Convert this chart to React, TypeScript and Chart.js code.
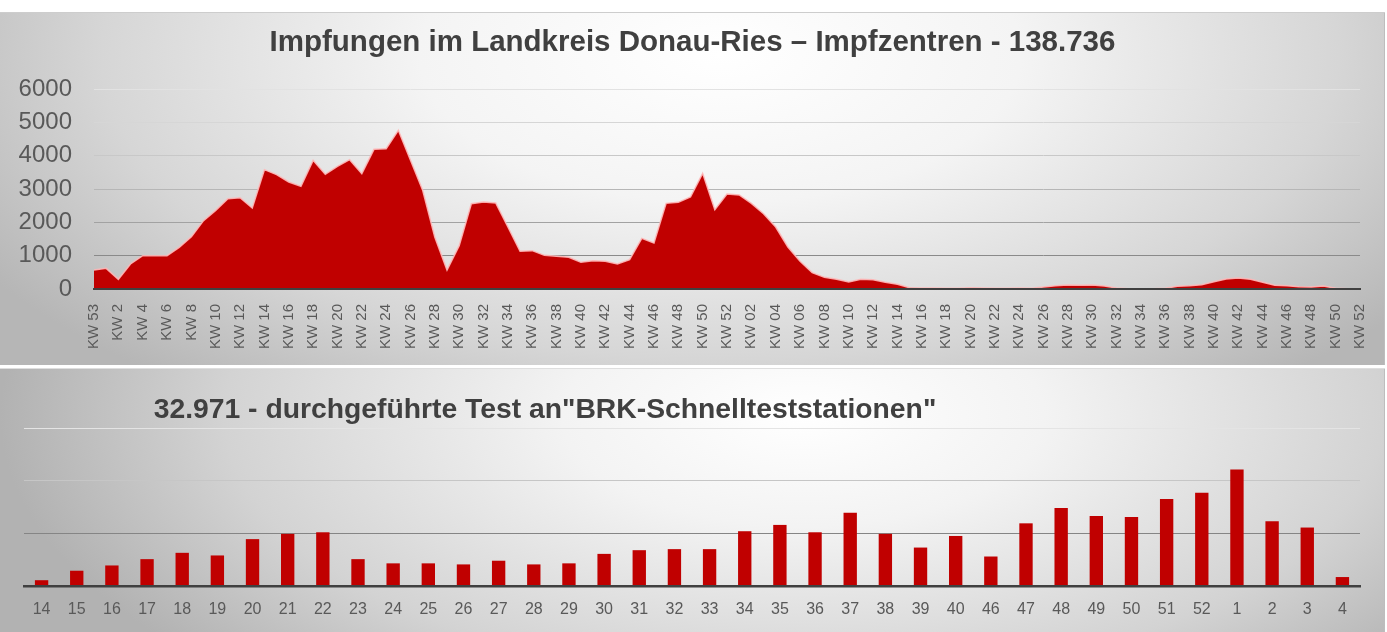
import React, { useEffect, useRef } from "react";
import { Chart, registerables } from "chart.js";

Chart.register(...registerables);

const FONT = "'Liberation Sans', Arial, Helvetica, sans-serif";

const vaccTitle = "Impfungen im Landkreis Donau-Ries – Impfzentren - 138.736";
const testTitle = '32.971 - durchgeführte Test an"BRK-Schnellteststationen"';

const vaccWeeks = [
  "KW 53",
  "KW 1", "KW 2", "KW 3", "KW 4", "KW 5", "KW 6", "KW 7", "KW 8", "KW 9", "KW 10",
  "KW 11", "KW 12", "KW 13", "KW 14", "KW 15", "KW 16", "KW 17", "KW 18", "KW 19", "KW 20",
  "KW 21", "KW 22", "KW 23", "KW 24", "KW 25", "KW 26", "KW 27", "KW 28", "KW 29", "KW 30",
  "KW 31", "KW 32", "KW 33", "KW 34", "KW 35", "KW 36", "KW 37", "KW 38", "KW 39", "KW 40",
  "KW 41", "KW 42", "KW 43", "KW 44", "KW 45", "KW 46", "KW 47", "KW 48", "KW 49", "KW 50",
  "KW 51", "KW 52",
  "KW 01", "KW 02", "KW 03", "KW 04", "KW 05", "KW 06", "KW 07", "KW 08", "KW 09", "KW 10",
  "KW 11", "KW 12", "KW 13", "KW 14", "KW 15", "KW 16", "KW 17", "KW 18", "KW 19", "KW 20",
  "KW 21", "KW 22", "KW 23", "KW 24", "KW 25", "KW 26", "KW 27", "KW 28", "KW 29", "KW 30",
  "KW 31", "KW 32", "KW 33", "KW 34", "KW 35", "KW 36", "KW 37", "KW 38", "KW 39", "KW 40",
  "KW 41", "KW 42", "KW 43", "KW 44", "KW 45", "KW 46", "KW 47", "KW 48", "KW 49", "KW 50",
  "KW 51", "KW 52",
];

const vaccDoses = [
  570, 620, 290, 750, 1000, 1000, 1000, 1250, 1570, 2050,
  2360, 2710, 2740, 2430, 3580, 3430, 3210, 3080, 3860, 3440,
  3680, 3880, 3460, 4190, 4210, 4760, 3860, 2960, 1550, 570,
  1300, 2560, 2610, 2580, 1860, 1130, 1150, 1010, 980, 950,
  800, 850, 830, 750, 880, 1520, 1380, 2570, 2600, 2760,
  3470, 2380, 2850, 2820, 2570, 2260, 1860, 1260, 830, 490,
  350, 290, 210, 290, 280, 200, 140, 40, 30, 30,
  20, 20, 40, 30, 20, 20, 30, 20, 60, 100,
  120, 110, 120, 90, 30, 10, 10, 10, 20, 80,
  100, 130, 220, 300, 330, 290, 200, 110, 100, 70,
  60, 90, 20, 10, 10,
];

const vaccAxisMax = 6000;
const vaccAxisStep = 1000;

const testWeeks = [
  "14", "15", "16", "17", "18", "19", "20", "21", "22", "23",
  "24", "25", "26", "27", "28", "29", "30", "31", "32", "33",
  "34", "35", "36", "37", "38", "39", "40", "46", "47", "48",
  "49", "50", "51", "52", "1", "2", "3", "4",
];

const testCounts = [
  110, 290, 390, 510, 630, 580, 890, 990, 1020, 510,
  430, 430, 410, 480, 410, 430, 610, 680, 700, 700,
  1040, 1160, 1020, 1390, 990, 730, 950, 560, 1190, 1480,
  1330, 1310, 1650, 1770, 2210, 1230, 1110, 170,
];

const testAxisMax = 3000;
const testAxisStep = 1000;

const RED = "#C00000";

function vaccGridColor(v: number) {
  if (v <= 0) return "rgba(0,0,0,0)";
  if (v <= 1000) return "#8a8a8a";
  if (v <= 2000) return "#a2a2a2";
  if (v <= 3000) return "#b6b6b6";
  if (v <= 4000) return "#c8c8c8";
  if (v <= 5000) return "#d6d6d6";
  return "#e2e2e2";
}

function testGridColor(v: number) {
  if (v <= 0) return "rgba(0,0,0,0)";
  if (v <= 1000) return "#858585";
  if (v <= 2000) return "#c6c6c6";
  return "#e4e4e4";
}

const testTitlePlugin = {
  id: "testTitle",
  afterDraw(chart: any) {
    const ctx = chart.ctx;
    ctx.save();
    ctx.font = `bold 28.3px ${FONT}`;
    ctx.fillStyle = "#404040";
    ctx.textAlign = "center";
    ctx.textBaseline = "middle";
    ctx.fillText(testTitle, 545, 42);
    ctx.restore();
  },
};

// empty right-hand axis that only reserves the right margin
const spacerAxis = (w: number) => ({
  position: "right",
  display: true,
  grid: { display: false, drawTicks: false },
  border: { display: false },
  ticks: { display: false },
  afterFit: (s: any) => {
    s.width = w;
  },
});

export default function App() {
  const topRef = useRef<HTMLCanvasElement | null>(null);
  const botRef = useRef<HTMLCanvasElement | null>(null);

  useEffect(() => {
    if (!topRef.current || !botRef.current) return;

    const top = new Chart(topRef.current, {
      type: "line",
      data: {
        labels: vaccWeeks,
        datasets: [
          {
            data: vaccDoses,
            fill: "origin",
            backgroundColor: RED,
            borderColor: "rgba(255,185,185,0.9)",
            borderWidth: 1.5,
            pointRadius: 0,
            tension: 0,
          },
        ],
      },
      options: {
        responsive: false,
        animation: false,
        events: [],
        layout: { padding: 0 },
        plugins: {
          legend: { display: false },
          tooltip: { enabled: false },
          title: {
            display: true,
            text: vaccTitle,
            color: "#404040",
            font: { family: FONT, size: 29.5, weight: "bold", lineHeight: 1.2 },
            padding: { top: 13.3, bottom: 28.3 },
          },
        },
        scales: {
          x: {
            type: "category",
            offset: false,
            grid: { display: false },
            border: { display: true, color: "#404040", width: 2, z: 1 },
            ticks: {
              autoSkip: false,
              minRotation: 90,
              maxRotation: 90,
              padding: 7,
              color: "#595959",
              font: { family: FONT, size: 15 },
              callback: function (this: any, val: any, idx: number) {
                return idx % 2 === 0 ? this.getLabelForValue(val) : "";
              },
            },
            afterFit: (s: any) => {
              s.height = 76;
            },
          },
          y: {
            min: 0,
            max: vaccAxisMax,
            border: { display: false },
            grid: {
              drawTicks: false,
              color: (c: any) => vaccGridColor(c.tick ? c.tick.value : 0),
              lineWidth: 1,
            },
            ticks: {
              stepSize: vaccAxisStep,
              padding: 22,
              color: "#595959",
              font: { family: FONT, size: 24 },
              callback: (v: any) => String(v),
            },
            afterFit: (s: any) => {
              s.width = 94;
            },
          },
          yr: spacerAxis(25),
        },
      },
    } as any);

    const bot = new Chart(botRef.current, {
      type: "bar",
      data: {
        labels: testWeeks,
        datasets: [
          {
            data: testCounts,
            backgroundColor: RED,
            borderWidth: 0,
            barPercentage: 0.38,
            categoryPercentage: 1,
          },
        ],
      },
      options: {
        responsive: false,
        animation: false,
        events: [],
        layout: { padding: { left: 0, right: 0, top: 60, bottom: 0 } },
        plugins: {
          legend: { display: false },
          tooltip: { enabled: false },
          title: { display: false },
        },
        scales: {
          x: {
            type: "category",
            offset: true,
            grid: { display: false },
            border: { display: true, color: "#404040", width: 2.5, z: 1 },
            ticks: {
              autoSkip: false,
              maxRotation: 0,
              minRotation: 0,
              padding: 6,
              color: "#595959",
              font: { family: FONT, size: 16 },
            },
            afterFit: (s: any) => {
              s.height = 46;
            },
          },
          y: {
            min: 0,
            max: testAxisMax,
            border: { display: false },
            grid: {
              drawTicks: false,
              color: (c: any) => testGridColor(c.tick ? c.tick.value : 0),
              lineWidth: 1,
            },
            ticks: { display: false, stepSize: testAxisStep },
            afterFit: (s: any) => {
              s.width = 24;
            },
          },
          yr: spacerAxis(25),
        },
      },
      plugins: [testTitlePlugin],
    } as any);

    return () => {
      top.destroy();
      bot.destroy();
    };
  }, []);

  return (
    <div
      style={{
        position: "absolute",
        left: 0,
        top: 0,
        width: 1387,
        height: 632,
        background: "#ffffff",
        overflow: "hidden",
      }}
    >
      <div
        style={{
          position: "absolute",
          left: 0,
          top: 12,
          width: 1385,
          height: 353,
          background:
            "radial-gradient(ellipse 62% 120% at 52% 12%, #ffffff 0%, #f4f4f4 35%, #d6d6d6 72%, #b6b6b6 100%)",
          boxShadow: "inset 0 1px 0 #cdcdcd, inset -1px 0 0 #bdbdbd",
        }}
      >
        <canvas ref={topRef} width={1385} height={353} style={{ display: "block" }} />
      </div>
      <div
        style={{
          position: "absolute",
          left: 0,
          top: 368,
          width: 1385,
          height: 264,
          background:
            "radial-gradient(ellipse 58% 140% at 58% 18%, #ffffff 0%, #f3f3f3 30%, #d3d3d3 72%, #b2b2b2 100%)",
          boxShadow: "inset 0 1px 0 #dedede, inset -1px 0 0 #bdbdbd",
        }}
      >
        <canvas ref={botRef} width={1385} height={264} style={{ display: "block" }} />
      </div>
    </div>
  );
}
